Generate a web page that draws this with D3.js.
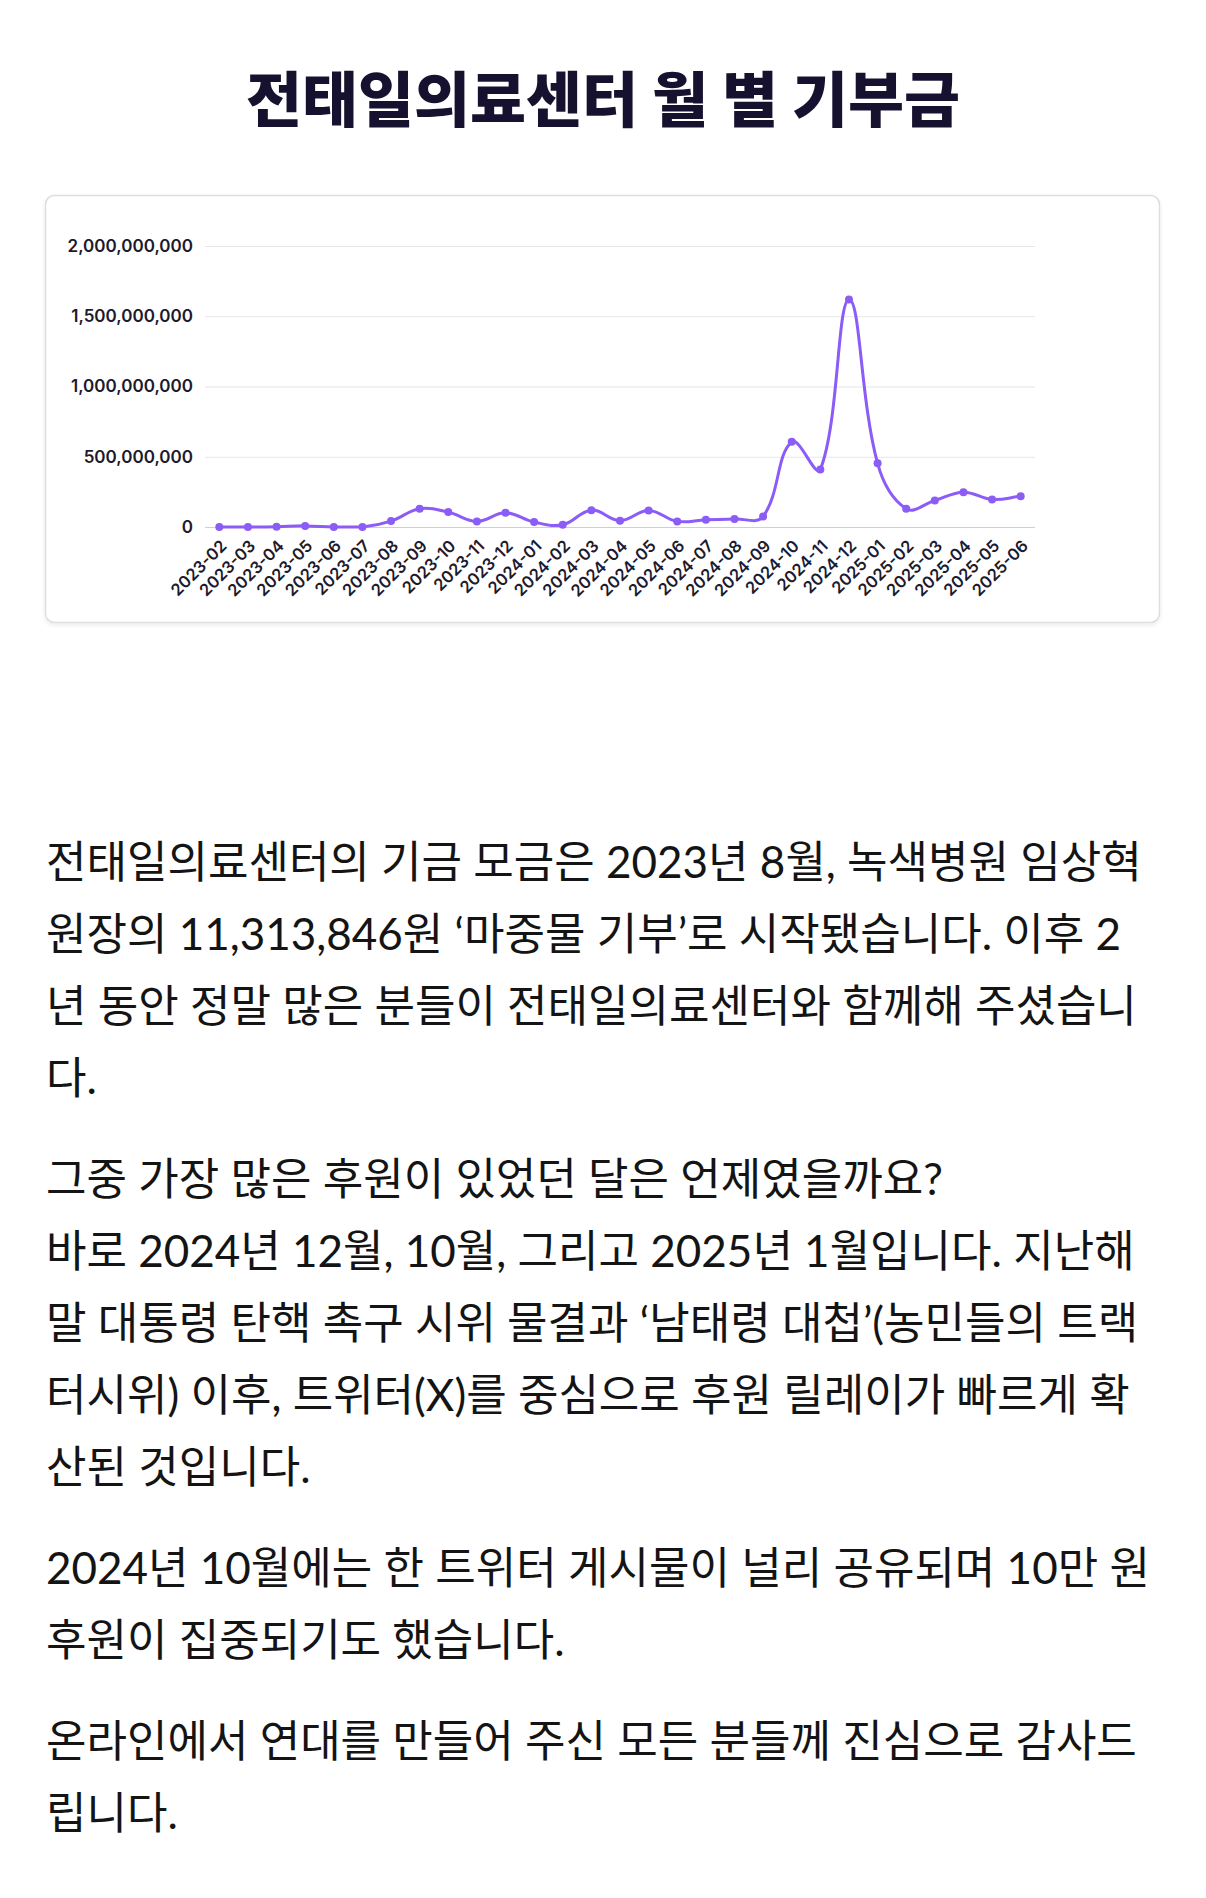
<!DOCTYPE html>
<html>
<head>
<meta charset="utf-8">
<script src="https://cdn.jsdelivr.net/npm/d3@7"></script>
<style>
  html, body { margin: 0; padding: 0; background: #fff; }
</style>
</head>
<body>
<div id="chart"></div>
<script>
// 월별 기부금 (원)
var months = ["2023-02","2023-03","2023-04","2023-05","2023-06","2023-07","2023-08","2023-09","2023-10","2023-11","2023-12",
  "2024-01","2024-02","2024-03","2024-04","2024-05","2024-06","2024-07","2024-08","2024-09","2024-10","2024-11","2024-12",
  "2025-01","2025-02","2025-03","2025-04","2025-05","2025-06"];
var donations = [0, 0, 2000000, 8000000, 0, 0, 42000000, 130000000, 106000000, 40000000, 101000000,
  35000000, 16000000, 120000000, 45000000, 118000000, 40000000, 52000000, 57000000, 75000000, 606000000, 410000000, 1620000000,
  453000000, 130000000, 189000000, 248000000, 196000000, 219000000];
var yTicks = [0, 500000000, 1000000000, 1500000000, 2000000000];

var title = "전태일의료센터 월 별 기부금";
var paragraphs = [
  ["전태일의료센터의 기금 모금은 2023년 8월, 녹색병원 임상혁",
   "원장의 11,313,846원 ‘마중물 기부’로 시작됐습니다. 이후 2",
   "년 동안 정말 많은 분들이 전태일의료센터와 함께해 주셨습니",
   "다."],
  ["그중 가장 많은 후원이 있었던 달은 언제였을까요?",
   "바로 2024년 12월, 10월, 그리고 2025년 1월입니다. 지난해",
   "말 대통령 탄핵 촉구 시위 물결과 ‘남태령 대첩’(농민들의 트랙",
   "터시위) 이후, 트위터(X)를 중심으로 후원 릴레이가 빠르게 확",
   "산된 것입니다."],
  ["2024년 10월에는 한 트위터 게시물이 널리 공유되며 10만 원",
   "후원이 집중되기도 했습니다."],
  ["온라인에서 연대를 만들어 주신 모든 분들께 진심으로 감사드",
   "립니다."]
];

var W = 1206, H = 1898;
var colors = {
  title: '#16112e',
  line: '#8b5cf6',
  grid: '#e6e6e6',
  zero: '#cfcfcf',
  label: '#1c1a2c',
  body: '#141414',
  card: '#dedede'
};
var plot = { left: 205, right: 1035, top: 246, bottom: 527 };

var svg = d3.select('#chart').append('svg')
  .attr('width', W)
  .attr('height', H)
  .style('display', 'block');

var defs = svg.append('defs');
var shadow = defs.append('filter').attr('id', 'cardShadow')
  .attr('x', '-5%').attr('y', '-5%').attr('width', '110%').attr('height', '115%');
shadow.append('feDropShadow')
  .attr('dx', 0).attr('dy', 2).attr('stdDeviation', 2)
  .attr('flood-color', '#000').attr('flood-opacity', 0.08);

// 제목
svg.append('text')
  .attr('x', W / 2)
  .attr('y', 122)
  .attr('text-anchor', 'middle')
  .attr('font-family', "'Noto Sans CJK KR', sans-serif")
  .attr('font-weight', 900)
  .attr('font-size', 60)
  .attr('textLength', 714)
  .attr('lengthAdjust', 'spacingAndGlyphs')
  .attr('fill', colors.title)
  .text(title);

// 카드
svg.append('rect')
  .attr('x', 45.5).attr('y', 195.5)
  .attr('width', 1114).attr('height', 427)
  .attr('rx', 9)
  .attr('fill', '#fff')
  .attr('stroke', colors.card)
  .attr('stroke-width', 1.5)
  .attr('filter', 'url(#cardShadow)');

var x = d3.scalePoint()
  .domain(months)
  .range([plot.left, plot.right])
  .padding(0.5);
var y = d3.scaleLinear()
  .domain([0, 2000000000])
  .range([plot.bottom, plot.top]);

// y축 + 격자
var gy = svg.append('g')
  .attr('transform', 'translate(' + plot.left + ',0)')
  .call(d3.axisLeft(y)
    .tickValues(yTicks)
    .tickSize(-(plot.right - plot.left))
    .tickPadding(12)
    .tickFormat(d3.format(',')));
gy.select('.domain').remove();
gy.selectAll('.tick line')
  .attr('stroke', function (d) { return d === 0 ? colors.zero : colors.grid; })
  .attr('stroke-width', 1.2);
gy.selectAll('.tick text')
  .attr('fill', colors.label)
  .attr('font-family', 'Inter, sans-serif')
  .attr('font-weight', 600)
  .attr('font-size', 17);

// x축
var gx = svg.append('g')
  .attr('transform', 'translate(0,' + plot.bottom + ')')
  .call(d3.axisBottom(x).tickSize(0));
gx.select('.domain').remove();
gx.selectAll('.tick text')
  .attr('fill', colors.label)
  .attr('font-family', 'Inter, sans-serif')
  .attr('font-weight', 600)
  .attr('font-size', 16.5)
  .attr('text-anchor', 'end')
  .attr('dy', null)
  .attr('y', 0)
  .attr('transform', 'translate(8,20) rotate(-45)');

// Chart.js 식 곡선 (tension 0.4)
var pts = months.map(function (m, i) { return { x: x(m), y: y(donations[i]) }; });
function controlPoints(p) {
  var t = 0.4, cps = [];
  for (var i = 0; i < p.length; i++) {
    var prev = p[i - 1] || p[i], cur = p[i], next = p[i + 1] || p[i];
    var d01 = Math.hypot(cur.x - prev.x, cur.y - prev.y);
    var d12 = Math.hypot(next.x - cur.x, next.y - cur.y);
    var s01 = d01 / (d01 + d12) || 0, s12 = d12 / (d01 + d12) || 0;
    var fa = t * s01, fb = t * s12;
    var c = {
      px: cur.x - fa * (next.x - prev.x), py: cur.y - fa * (next.y - prev.y),
      nx: cur.x + fb * (next.x - prev.x), ny: cur.y + fb * (next.y - prev.y)
    };
    c.py = Math.max(plot.top, Math.min(plot.bottom, c.py));
    c.ny = Math.max(plot.top, Math.min(plot.bottom, c.ny));
    cps.push(c);
  }
  return cps;
}
var cps = controlPoints(pts);
var path = d3.path();
path.moveTo(pts[0].x, pts[0].y);
for (var i = 1; i < pts.length; i++) {
  path.bezierCurveTo(cps[i - 1].nx, cps[i - 1].ny, cps[i].px, cps[i].py, pts[i].x, pts[i].y);
}
svg.append('path')
  .attr('d', path.toString())
  .attr('fill', 'none')
  .attr('stroke', colors.line)
  .attr('stroke-width', 3)
  .attr('stroke-linejoin', 'round');

svg.append('g').selectAll('circle')
  .data(months)
  .join('circle')
  .attr('cx', function (d) { return x(d); })
  .attr('cy', function (d, i) { return y(donations[i]); })
  .attr('r', 4)
  .attr('fill', colors.line);

// 본문
var lineH = 72, paraGap = 29, by = 878;
var body = svg.append('g')
  .attr('font-family', "Lato, 'Noto Sans CJK KR', sans-serif")
  .attr('font-size', 44)
  .attr('fill', colors.body);
paragraphs.forEach(function (lines) {
  lines.forEach(function (ln) {
    body.append('text')
      .attr('x', 46)
      .attr('y', by)
      .text(ln);
    by += lineH;
  });
  by += paraGap;
});
</script>
</body>
</html>
